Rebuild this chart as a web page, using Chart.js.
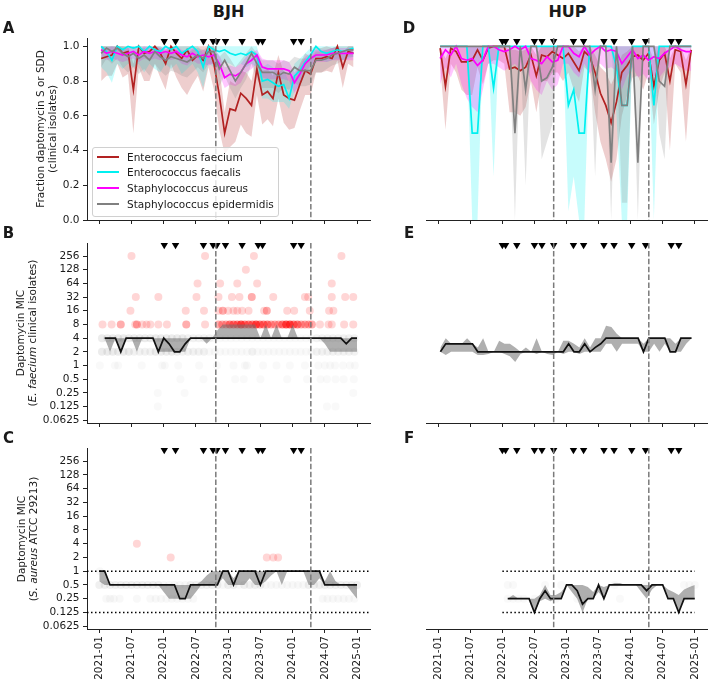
<!DOCTYPE html>
<html><head><meta charset="utf-8">
<script src="https://cdn.jsdelivr.net/npm/chart.js@4.4.1/dist/chart.umd.min.js"></script>
<style>
html,body{margin:0;padding:0;background:#fff;}
body{position:relative;width:712px;height:683px;overflow:hidden;font-family:"DejaVu Sans",sans-serif;color:#1a1a1a;}
.pane{position:absolute;}
.txt{position:absolute;white-space:nowrap;}
.letter{font-weight:bold;font-size:15px;transform:translate(-50%,-50%);}
.site{font-weight:bold;font-size:16px;transform:translate(-50%,-50%);}
.ytitle{font-size:10.5px;line-height:12px;text-align:center;transform:translate(-50%,-50%) rotate(-90deg);}
.legend{position:absolute;left:92px;top:147px;width:187px;height:70px;box-sizing:border-box;border:1px solid #d0d0d0;border-radius:3px;background:rgba(255,255,255,0.8);font-size:10.5px;}
.lrow{position:absolute;left:0;height:14px;width:180px;}
.lline{position:absolute;left:4px;top:6px;width:22px;height:2px;}
.ltext{position:absolute;left:34px;top:0;line-height:14px;white-space:nowrap;}
</style></head><body>
<script>
// ---------------- data ----------------
const xTickMonths = [0,6,12,18,24,30,36,42,48];
const xTickLabels = ['2021-01','2021-07','2022-01','2022-07','2023-01','2023-07','2024-01','2024-07','2025-01'];
const fracTicks = [0,0.2,0.4,0.6,0.8,1.0];
const micTicks = [0.0625,0.125,0.25,0.5,1,2,4,8,16,32,64,128,256];

const speciesNames = ['Enterococcus faecium','Enterococcus faecalis','Staphylococcus aureus','Staphylococcus epidermidis'];

// months since 2021-01 at which samples are plotted
const monthsFrac = Array.from({length:48},(_,i)=>i+0.35);       // panels A, D
const monthsMicBJH = Array.from({length:48},(_,i)=>i+1);        // panel B
const monthsQcBJH = Array.from({length:49},(_,i)=>i);           // panel C
const monthsMicHUP = Array.from({length:48},(_,i)=>i+0.4);      // panel E
const monthsQcHUP = Array.from({length:36},(_,i)=>i+13);        // panel F

const bjhEventMonths = [12.1,14.2,19.4,21.2,21.9,23.5,26.6,29.6,30.4,36.2,37.6];
const hupEventMonths = [12.0,12.6,14.7,18.0,19.4,21.6,25.3,27.2,31.0,32.9,36.2,38.8,43.6,45.0];
const bjhPeriodMonths = [21.7,39.4];
const hupPeriodMonths = [21.6,39.4];
const qcRangeMic = [0.125,1];
const hupQcRangeMonths = [12,48];

// Panel A: BJH fraction susceptible
const bjhFaeciumFrac = [0.93,0.94,0.95,1.0,0.96,0.97,0.75,1.0,0.96,0.97,1.0,0.96,0.90,1.0,0.96,0.93,0.98,0.92,0.95,0.92,1.0,0.90,0.72,0.50,0.64,0.63,0.73,0.70,0.66,0.87,0.72,0.74,0.70,0.85,0.72,0.70,0.69,0.78,0.86,0.84,0.93,0.93,0.94,0.93,1.0,0.88,0.97,0.96];
const bjhFaeciumLo = [0.80,0.83,0.83,0.90,0.82,0.84,0.50,0.88,0.80,0.80,0.90,0.82,0.75,0.90,0.82,0.76,0.72,0.78,0.83,0.74,0.88,0.75,0.52,0.38,0.42,0.45,0.55,0.50,0.48,0.72,0.55,0.58,0.54,0.70,0.56,0.52,0.53,0.63,0.72,0.72,0.85,0.85,0.86,0.85,0.92,0.76,0.90,0.88];
const bjhFaeciumHi = [1,1,1,1,1,1,0.9,1,1,1,1,1,0.98,1,1,1,1,1,1,1,1,1,0.88,0.62,0.8,0.78,0.86,0.85,0.8,0.96,0.86,0.87,0.83,0.95,0.85,0.84,0.82,0.9,0.96,0.94,0.99,0.99,1,0.99,1,0.96,1,1];
const bjhFaecalisFrac = [1.0,0.97,0.92,1.0,0.98,1.0,0.99,1.0,0.97,1.0,0.98,0.97,1.0,0.98,1.0,0.96,0.98,1.0,0.97,0.88,1.0,0.98,0.97,0.98,0.96,0.95,0.96,0.95,0.97,0.95,0.80,0.81,0.79,0.77,0.78,0.70,0.83,0.86,0.91,0.95,1.0,0.97,0.96,0.97,0.98,0.97,0.98,0.99];
const bjhFaecalisLo = [0.88,0.85,0.79,0.9,0.87,0.9,0.88,0.9,0.85,0.9,0.87,0.85,0.9,0.87,0.9,0.84,0.87,0.9,0.85,0.76,0.9,0.88,0.9,0.91,0.9,0.88,0.9,0.88,0.9,0.88,0.70,0.70,0.68,0.68,0.68,0.64,0.74,0.78,0.84,0.88,0.93,0.92,0.91,0.92,0.93,0.92,0.93,0.94];
const bjhFaecalisHi = [1,1,1,1,1,1,1,1,1,1,1,1,1,1,1,1,1,1,1,0.96,1,1,1,1,1,1,1,1,1,1,0.88,0.9,0.88,0.85,0.87,0.79,0.9,0.93,0.96,0.99,1,1,1,1,1,1,1,1];
const bjhAureusFrac = [0.98,0.96,0.97,0.96,0.95,0.96,0.97,0.95,0.97,0.96,0.97,0.96,0.97,0.96,0.97,0.95,0.94,0.96,0.94,0.95,0.94,0.95,0.90,0.82,0.84,0.83,0.85,0.90,0.92,0.95,0.88,0.87,0.87,0.87,0.87,0.86,0.79,0.84,0.90,0.93,0.95,0.95,0.95,0.96,0.96,0.96,0.96,0.96];
const bjhAureusLo = [0.94,0.92,0.93,0.92,0.91,0.92,0.93,0.91,0.93,0.92,0.93,0.92,0.93,0.92,0.93,0.90,0.89,0.92,0.90,0.90,0.89,0.90,0.84,0.76,0.78,0.77,0.79,0.85,0.87,0.90,0.82,0.81,0.81,0.81,0.81,0.80,0.73,0.78,0.85,0.89,0.91,0.91,0.91,0.92,0.92,0.92,0.92,0.92];
const bjhAureusHi = [1.0,0.99,1.0,0.99,0.98,0.99,1.0,0.98,1.0,0.99,1.0,0.99,1.0,0.99,1.0,0.98,0.97,0.99,0.97,0.98,0.97,0.98,0.95,0.88,0.89,0.88,0.90,0.94,0.96,0.98,0.93,0.92,0.92,0.92,0.92,0.91,0.85,0.89,0.94,0.96,0.98,0.98,0.98,0.99,0.99,0.99,0.99,0.99];
const bjhEpidFrac = [0.96,0.99,0.97,0.99,0.96,0.94,0.96,0.93,0.95,0.92,0.97,0.94,0.92,0.94,0.93,0.92,0.91,0.93,0.95,0.93,0.97,0.97,0.87,0.92,0.86,0.80,0.85,0.90,0.96,0.90,0.85,0.85,0.85,0.83,0.85,0.84,0.88,0.86,0.86,0.86,0.92,0.92,0.93,0.95,0.96,0.97,0.98,0.98];
const bjhEpidLo = [0.88,0.93,0.90,0.93,0.88,0.85,0.88,0.84,0.87,0.83,0.90,0.86,0.83,0.86,0.85,0.83,0.82,0.85,0.88,0.85,0.90,0.90,0.77,0.83,0.76,0.70,0.76,0.81,0.90,0.81,0.76,0.76,0.76,0.73,0.76,0.75,0.79,0.77,0.77,0.78,0.85,0.85,0.87,0.89,0.90,0.92,0.94,0.94];
const bjhEpidHi = [1.0,1.0,1.0,1.0,1.0,0.99,1.0,0.98,0.99,0.97,1.0,0.99,0.97,0.99,0.98,0.97,0.96,0.98,0.99,0.98,1.0,1.0,0.94,0.97,0.93,0.88,0.92,0.96,1.0,0.96,0.92,0.92,0.92,0.90,0.92,0.91,0.94,0.93,0.93,0.93,0.97,0.97,0.98,0.99,1.0,1.0,1.0,1.0];

// Panel D: HUP fraction susceptible
const hupFaeciumFrac = [0.99,0.77,0.99,0.97,0.91,0.91,0.92,0.98,0.92,0.99,1,1,1,0.87,0.88,0.86,0.88,0.95,0.83,0.95,0.94,0.97,0.95,0.93,0.96,0.91,0.86,0.97,0.94,0.85,0.73,0.66,0.56,0.68,0.85,0.89,0.94,0.95,0.92,0.96,0.77,0.92,0.96,0.80,0.98,0.97,0.78,0.98];
const hupFaeciumLo = [0.9,0.52,0.9,0.85,0.75,0.72,0.72,0.88,0.78,0.9,0.92,0.92,0.9,0.62,0.62,0.6,0.65,0.8,0.62,0.8,0.8,0.85,0.85,0.8,0.85,0.75,0.68,0.88,0.85,0.62,0.45,0.35,0.22,0.35,0.6,0.72,0.82,0.83,0.75,0.85,0.55,0.75,0.85,0.4,0.9,0.85,0.45,0.88];
const hupFaeciumHi = [1,0.93,1,1,1,1,1,1,1,1,1,1,1,0.98,0.98,0.97,0.98,1,0.95,1,1,1,1,1,1,1,0.97,1,1,0.95,0.88,0.85,0.78,0.85,0.95,0.97,1,1,1,1,0.92,1,1,0.93,1,1,0.92,1];
const hupFaecalisFrac = [1,1,1,1,1,1,0.5,0.5,1,1,0.76,1,1,1,1,1,1,1,1,1,1,1,1,1,0.66,0.75,0.5,0.5,1,1,1,1,1,0.88,0.66,0.66,1,1,1,1,0.66,1,1,1,1,1,1,1];
const hupFaecalisLo = [1,1,1,1,1,1,0,0,1,1,0.25,1,1,1,1,1,1,1,1,1,1,1,1,1,0.05,0.25,0,0,1,1,1,1,1,0.6,0,0,1,1,1,1,0,1,1,1,1,1,1,1];
const hupFaecalisHi = [1,1,1,1,1,1,1,1,1,1,1,1,1,1,1,1,1,1,1,1,1,1,1,1,1,1,1,1,1,1,1,1,1,1,1,1,1,1,1,1,1,1,1,1,1,1,1,1];
const hupAureusFrac = [0.93,0.98,0.95,1.0,0.93,0.92,0.93,0.89,0.92,1.0,1.0,0.98,0.97,0.98,1.0,0.98,1.0,0.93,0.92,0.9,0.94,0.91,0.92,1.0,1.0,0.96,0.94,1.0,0.95,0.98,1.0,0.97,0.98,0.97,0.9,0.94,0.98,0.93,0.95,0.92,0.94,0.93,0.96,0.98,1.0,0.98,0.97,0.97];
const hupAureusLo = [0.78,0.88,0.82,0.9,0.78,0.7,0.65,0.62,0.75,0.9,0.9,0.88,0.86,0.88,0.9,0.86,0.9,0.8,0.75,0.72,0.8,0.75,0.78,0.9,0.9,0.85,0.82,0.9,0.84,0.88,0.9,0.87,0.88,0.86,0.75,0.83,0.88,0.82,0.84,0.8,0.83,0.82,0.86,0.88,0.9,0.88,0.86,0.86];
const hupAureusHi = [1,1,1,1,1,1,1,1,1,1,1,1,1,1,1,1,1,1,1,1,1,1,1,1,1,1,1,1,1,1,1,1,1,1,1,1,1,1,1,1,1,1,1,1,1,1,1,1];
const hupEpidFrac = [1,1,1,1,1,1,1,1,1,1,1,1,1,1,0.5,1,0.75,1,1,0.8,0.82,0.88,1,1,1,1,1,1,1,0.75,1,1,0.33,1,0.66,0.66,1,0.33,1,1,1,0.8,0.77,1,1,1,1,1];
const hupEpidLo = [1,1,1,1,1,1,1,1,1,1,1,1,1,1,0,1,0.2,1,1,0.35,0.45,0.55,1,1,1,1,1,1,1,0.25,1,1,0,1,0.1,0.1,1,0,1,1,1,0.5,0.35,1,1,1,1,1];
const hupEpidHi = [1,1,1,1,1,1,1,1,1,1,1,1,1,1,1,1,1,1,1,1,1,1,1,1,1,1,1,1,1,1,1,1,1,1,1,1,1,1,1,1,1,1,1,1,1,1,1,1];

// Panel B: BJH E. faecium MIC (median, IQR, isolates [month, MIC, count])
const bjhFaeciumMicMedian = [4,4,4,2,4,4,4,4,4,4,2,4,3,2,2,3,4,4,4,4,4,4,4,4,4,4,4,4,4,4,4,4,4,4,4,4,4,4,4,4,4,4,4,4,4,3,4,4];
const bjhFaeciumMicLo = [4,2,4,2,4,4,2,4,4,4,2,2,2,2,2,2,4,4,4,3,4,4,4,4,4,4,4,4,4,4,4,4,4,4,4,4,4,4,4,4,4,3,2,2,2,2,2,2];
const bjhFaeciumMicHi = [4,4,4,4,4,4,4,4,4,4,4,4,4,4,4,4,4,4,4,4,4,6,8,8,8,8,8,8,8,4,8,4,8,4,4,8,4,4,4,4,4,4,4,4,4,4,4,4];
const bjhFaeciumNonSusc = [
 [6.0,256,1],[19.7,256,1],[28.8,256,1],[45.1,256,1],[27.3,128,1],
 [18.3,64,1],[22.5,64,1],[25.7,64,1],[29.4,64,1],[43.3,64,1],
 [6.8,32,1],[11.0,32,1],[18.1,32,1],[22.2,32,1],[24.7,32,1],[26.1,32,1],[28.4,32,2],[32.4,32,1],[38.3,32,1],[38.9,32,1],[43.3,32,1],[45.8,32,1],[47.3,32,1],
 [5.8,16,1],[16.1,16,1],[19.5,16,1],[22.2,16,1],[23.0,16,2],[24.0,16,1],[25.0,16,1],[25.7,16,1],[26.6,16,1],[27.8,16,1],[30.7,16,1],[31.2,16,2],[35.0,16,1],[36.3,16,1],[39.2,16,1],[42.8,16,1],[43.6,16,1],
 [0.6,8,1],[2.3,8,1],[4.0,8,2],[6.7,8,1],[7.0,8,2],[8.0,8,1],[8.8,8,1],[9.5,8,1],[11.0,8,1],[12.6,8,1],[16.2,8,2],[19.7,8,1],
 [22.2,8,2],[22.9,8,2],[23.6,8,2],[24.3,8,3],[25.0,8,3],[25.7,8,3],[26.4,8,4],[27.1,8,3],[27.8,8,3],[28.5,8,3],[29.2,8,4],[29.9,8,3],[30.6,8,3],[31.3,8,3],[32.0,8,2],[32.7,8,2],[33.4,8,2],[34.1,8,3],[34.8,8,4],[35.5,8,4],[36.2,8,3],[36.9,8,3],[37.6,8,2],[38.3,8,2],[39.0,8,2],[39.6,8,2],
 [41.1,8,1],[42.7,8,1],[43.3,8,1],[45.6,8,1],[47.3,8,1]
];
const bjhFaeciumMic4Counts = [3,3,3,3,3,3,3,3,3,3,3,3,3,3,3,3,2,2,2,2,2,1,1,1,1,1,1,1,1,1,1,1,1,1,1,1,1,1,1,1,2,2,2,2,2,2,2,2,2];
const bjhFaeciumMic2Counts = [3,3,3,3,3,3,2,2,2,2,3,3,3,3,3,2,2,2,2,2,1,1,1,1,1,1,1,1,2,1,1,1,1,1,1,1,1,1,1,1,2,2,2,2,2,2,2,2,2];
const bjhFaeciumMic1Months = [0.1,2.9,3.5,7.9,11.7,12.2,14.7,18.6,21.9,25,27.1,27.5,30.5,33,35.5,38.3,40.8,42,43,43.9,45.4,46.7,47.6];
const bjhFaeciumMic05Months = [15.1,19.4,25.3,26.9,30,35,38.7,41.2,42.4,44,45.5,47.4];
const bjhFaeciumMic025Months = [10.9,15.9,47.3];
const bjhFaeciumMic0125Months = [10.9,42.4,44];

// Panel C: BJH S. aureus ATCC 29213 QC MIC
const bjhQcMedian = [1,1,0.5,0.5,0.5,0.5,0.5,0.5,0.5,0.5,0.5,0.5,0.5,0.5,0.5,0.25,0.25,0.5,0.5,0.5,0.5,0.5,0.5,1,1,0.5,1,1,1,1,0.5,1,1,1,1,1,1,1,1,1,1,1,0.5,0.5,0.5,0.5,0.5,0.5,0.5];
const bjhQcLo = [0.6,0.5,0.5,0.5,0.5,0.5,0.5,0.5,0.5,0.5,0.5,0.5,0.35,0.25,0.25,0.25,0.25,0.25,0.35,0.5,0.5,0.5,0.5,0.7,0.5,0.5,0.5,0.5,0.7,0.5,0.5,0.6,0.8,1,0.5,1,1,1,1,0.5,0.5,0.7,0.5,0.5,0.5,0.5,0.5,0.35,0.25];
const bjhQcHi = [1,1,0.5,0.5,0.5,0.5,0.5,0.5,0.5,0.5,0.5,0.5,0.5,0.5,0.5,0.5,0.5,0.5,0.5,0.6,0.8,1,1,1,1,0.7,1,1,1,1,1,1,1,1,1,1,1,1,1,1,1,1,0.6,1,0.6,0.5,0.5,0.5,0.5];
const bjhQcOutOfRange = [[7.0,4,1],[13.3,2,1],[31.2,2,1],[32.4,2,1],[33.3,2,1]];
const bjhQcMic1Months = [0.1];
const bjhQcMic05Counts = [2,2,2,2,2,2,2,2,2,2,2,2,1,1,1,1,1,2,2,2,2,2,2,1,2,2,1,2,2,2,2,1,1,1,1,1,1,1,1,2,2,2,2,2,2,2,2,2,2];
const bjhQcMic025Months = [1.3,2,2.7,3.8,7,9.5,10.5,11.5,12.5,13.5,14.5,15.5,16.5,17.5,41.6,42.5,43.5,44.5,45.5,46.5,47.5];

// Panel E: HUP E. faecium MIC
const hupFaeciumMicMedian = [2,3,3,3,3,3,3,2,2,2,2,2,2,2,2,2,2,2,2,2,2,2,2,2,3,2,2,3,2,2.5,3,4,4,4,4,4,4,4,2,4,4,4,4,2,2,4,4,4];
const hupFaeciumMicLo = [2,1.7,2,2,2,2,2,1.7,1.7,1.8,2,2,1.8,1.6,1.2,1.8,2,2,1.8,2,1.8,1.7,2,1.8,2,2,1.8,2,2,2,2,3,3,2,3,3,3,3,2,2,3,2,3,2,2,2,3,4];
const hupFaeciumMicHi = [2.5,4,3,3,3,4,3,2.5,4,2,2,3.5,3,3,2.5,2,2.5,2,4,2,2,2,2,3.5,3.5,3,2.5,4,2.5,4,4,7.5,7,5,4,4,4,4,3,4,4,4,4,4,3,4,4,4];

// Panel F: HUP S. aureus ATCC 29213 QC MIC
const hupQcMedian = [0.25,0.25,0.25,0.25,0.25,0.125,0.25,0.375,0.25,0.25,0.25,0.5,0.5,0.375,0.19,0.25,0.25,0.5,0.25,0.5,0.5,0.5,0.5,0.5,0.5,0.5,0.375,0.5,0.5,0.5,0.25,0.25,0.125,0.25,0.25,0.25];
const hupQcLo = [0.25,0.25,0.25,0.25,0.25,0.125,0.22,0.25,0.22,0.25,0.25,0.5,0.35,0.25,0.125,0.25,0.25,0.35,0.25,0.5,0.5,0.5,0.5,0.5,0.5,0.35,0.25,0.4,0.5,0.5,0.25,0.25,0.125,0.25,0.25,0.25];
const hupQcHi = [0.25,0.3,0.25,0.25,0.25,0.25,0.3,0.5,0.3,0.3,0.35,0.5,0.5,0.5,0.5,0.45,0.35,0.5,0.45,0.5,0.55,0.55,0.5,0.5,0.5,0.5,0.5,0.5,0.5,0.5,0.4,0.35,0.3,0.4,0.45,0.5];
const hupQcMic05Months = [13,14,20,23,33,39,46,47,48];
const hupQcMic025Months = [13,14,15,16,18,22,26,28,34,44,46];

// ---------------- styles & helpers ----------------
const speciesColors = ['#b22222','#00f0f0','#ff00ff','#808080'];
const speciesBands = ['rgba(178,34,34,0.22)','rgba(0,240,240,0.22)','rgba(255,0,255,0.22)','rgba(128,128,128,0.22)'];
const AXIS = '#222', TXT = '#1a1a1a';
const TICKFONT = {family:'DejaVu Sans', size:10.5};
const X_MIN = -2.29, X_MAX = 50.42;

function pts(xs, ys){ return ys.map((v,i)=>({x:xs[i], y:v})); }
function series(xs, ys, color, width, order){
  return {type:'line', data:pts(xs,ys), borderColor:color, borderWidth:width, pointRadius:0, fill:false, order};
}
function band(xs, lo, hi, color, order){
  return [
    {type:'line', data:pts(xs,lo), borderWidth:0, borderColor:'rgba(0,0,0,0)', pointRadius:0, fill:false, order},
    {type:'line', data:pts(xs,hi), borderWidth:0, borderColor:'rgba(0,0,0,0)', pointRadius:0, fill:'-1', backgroundColor:color, order}
  ];
}
function markers(months, yv){
  return {type:'line', showLine:false, data:months.map(m=>({x:m,y:yv})), pointStyle:'triangle', pointRotation:180,
    pointRadius:4.3, pointBackgroundColor:'#000', pointBorderColor:'#000', pointBorderWidth:0, clip:false, order:0};
}
function dots(list, rgb, alphaPer, order){
  return {type:'line', showLine:false, data:list.map(d=>({x:d[0],y:d[1]})), pointRadius:4, pointBorderWidth:0,
    pointBackgroundColor:list.map(d=>`rgba(${rgb},${Math.min(0.85, alphaPer*d[2])})`), order:order||30};
}
function refPlugin(cfg){
  return {id:'refLines', afterDatasetsDraw(chart){
    const {ctx, chartArea:a, scales:{x,y}} = chart;
    ctx.save();
    (cfg.h||[]).forEach(h=>{
      const py = y.getPixelForValue(h.y);
      const x0 = h.from!=null ? x.getPixelForValue(h.from) : a.left;
      const x1 = h.to!=null ? x.getPixelForValue(h.to) : a.right;
      ctx.setLineDash([1.5,2.5]); ctx.strokeStyle='#000'; ctx.lineWidth=1.5;
      ctx.beginPath(); ctx.moveTo(x0,py); ctx.lineTo(x1,py); ctx.stroke();
    });
    (cfg.v||[]).forEach(m=>{
      const px = x.getPixelForValue(m);
      ctx.setLineDash([5.5,2.4]); ctx.strokeStyle='#7a7a7a'; ctx.lineWidth=1.5;
      ctx.beginPath(); ctx.moveTo(px,a.top); ctx.lineTo(px,a.bottom); ctx.stroke();
    });
    ctx.restore();
  }};
}

const COLS = [{l:0,w:380,al:87,ar:370},{l:380,w:332,al:426,ar:709}];
const ROWS = [{t:26,h:204,at:38,ab:220},{t:231,h:204,at:243,ab:423},{t:436,h:247,at:448,ab:629}];
const FRAC_Y = {type:'linear', min:0, max:1.048, ticks:fracTicks, fmt:v=>v.toFixed(1)};
const MIC_Y = {type:'logarithmic', min:Math.pow(2,-4.2), max:Math.pow(2,8.95), ticks:micTicks, fmt:v=>String(v)};

function makeChart(col, row, yCfg, showY, showXLabels, datasets, ref){
  const div = document.createElement('div'); div.className='pane';
  Object.assign(div.style,{left:col.l+'px', top:row.t+'px', width:col.w+'px', height:row.h+'px'});
  const cv = document.createElement('canvas'); div.appendChild(cv); document.body.appendChild(div);
  const yW = col.al - col.l;
  const yScale = {
    type:yCfg.type, min:yCfg.min, max:yCfg.max, bounds:'data', display:showY,
    afterBuildTicks:s=>{ s.ticks = yCfg.ticks.map(v=>({value:v})); },
    grid:{display:true, drawOnChartArea:false, drawTicks:true, tickLength:4, color:AXIS, lineWidth:1},
    border:{display:true, color:AXIS, width:1},
    ticks:{padding:3.5, color:TXT, font:TICKFONT, autoSkip:false, callback:v=>yCfg.fmt(v)}
  };
  if (showY) yScale.afterFit = s=>{ s.width = yW; };
  return new Chart(cv, {
    type:'line', data:{datasets},
    options:{
      responsive:true, maintainAspectRatio:false, animation:false, events:[],
      layout:{padding:{left: showY?0:yW, right: col.l+col.w-col.ar, top: row.at-row.t, bottom:0}},
      plugins:{legend:{display:false}, tooltip:{enabled:false}},
      scales:{
        x:{type:'linear', min:X_MIN, max:X_MAX, bounds:'data',
          afterBuildTicks:s=>{ s.ticks = xTickMonths.map(v=>({value:v})); },
          afterFit:s=>{ s.height = row.t+row.h-row.ab; },
          grid:{display:true, drawOnChartArea:false, drawTicks:true, tickLength:4, color:AXIS, lineWidth:1},
          border:{display:true, color:AXIS, width:1},
          ticks:{display:showXLabels, autoSkip:false, minRotation:90, maxRotation:90, padding:3, color:TXT, font:TICKFONT,
            callback:v=>xTickLabels[xTickMonths.indexOf(v)]}
        },
        y:yScale
      }
    },
    plugins:[refPlugin(ref||{})]
  });
}

function fracDatasets(sets, events){
  const ds = [];
  sets.forEach((s,i)=>{ ds.push(...band(monthsFrac, s[1], s[2], speciesBands[i], 20-i)); });
  sets.forEach((s,i)=>{ ds.push(series(monthsFrac, s[0], speciesColors[i], 1.7, 10-i)); });
  ds.push(markers(events, 1.03));
  return ds;
}
const MARK_MIC = Math.pow(2,8.8);
const expand = (months, mic, counts) => months.map((m,i)=>[m, mic, counts ? counts[i] : 1]);

// A
makeChart(COLS[0], ROWS[0], FRAC_Y, true, false, fracDatasets([
  [bjhFaeciumFrac,bjhFaeciumLo,bjhFaeciumHi],[bjhFaecalisFrac,bjhFaecalisLo,bjhFaecalisHi],
  [bjhAureusFrac,bjhAureusLo,bjhAureusHi],[bjhEpidFrac,bjhEpidLo,bjhEpidHi]], bjhEventMonths), {v:bjhPeriodMonths});
// D
makeChart(COLS[1], ROWS[0], FRAC_Y, false, false, fracDatasets([
  [hupFaeciumFrac,hupFaeciumLo,hupFaeciumHi],[hupFaecalisFrac,hupFaecalisLo,hupFaecalisHi],
  [hupAureusFrac,hupAureusLo,hupAureusHi],[hupEpidFrac,hupEpidLo,hupEpidHi]], hupEventMonths), {v:hupPeriodMonths});

// B
const monthCenters = Array.from({length:49},(_,i)=>i+0.5);
const bjhGrayIsolates = [].concat(
  expand(monthCenters, 4, bjhFaeciumMic4Counts), expand(monthCenters, 2, bjhFaeciumMic2Counts),
  expand(bjhFaeciumMic1Months, 1), expand(bjhFaeciumMic05Months, 0.5),
  expand(bjhFaeciumMic025Months, 0.25), expand(bjhFaeciumMic0125Months, 0.125)).filter(d=>d[0]<48.2);
makeChart(COLS[0], ROWS[1], MIC_Y, true, false, [
  dots(bjhGrayIsolates, '128,128,128', 0.05, 31),
  dots(bjhFaeciumNonSusc, '255,0,0', 0.16, 30),
  ...band(monthsMicBJH, bjhFaeciumMicLo, bjhFaeciumMicHi, 'rgba(110,110,110,0.55)', 20),
  series(monthsMicBJH, bjhFaeciumMicMedian, '#111', 1.7, 10),
  markers(bjhEventMonths, MARK_MIC)
], {v:bjhPeriodMonths});

// E
makeChart(COLS[1], ROWS[1], MIC_Y, false, false, [
  ...band(monthsMicHUP, hupFaeciumMicLo, hupFaeciumMicHi, 'rgba(110,110,110,0.55)', 20),
  series(monthsMicHUP, hupFaeciumMicMedian, '#111', 1.7, 10),
  markers(hupEventMonths, MARK_MIC)
], {v:hupPeriodMonths});

// C
const bjhQcGray = [].concat(expand(bjhQcMic1Months, 1), expand(monthsQcBJH, 0.5, bjhQcMic05Counts), expand(bjhQcMic025Months, 0.25));
makeChart(COLS[0], ROWS[2], MIC_Y, true, true, [
  dots(bjhQcGray, '128,128,128', 0.06, 31),
  dots(bjhQcOutOfRange, '255,0,0', 0.16, 30),
  ...band(monthsQcBJH, bjhQcLo, bjhQcHi, 'rgba(110,110,110,0.55)', 20),
  series(monthsQcBJH, bjhQcMedian, '#111', 1.7, 10),
  markers(bjhEventMonths, MARK_MIC)
], {v:bjhPeriodMonths, h:[{y:qcRangeMic[1]},{y:qcRangeMic[0]}]});

// F
const hupQcGray = [].concat(expand(hupQcMic05Months, 0.5), expand(hupQcMic025Months, 0.25));
makeChart(COLS[1], ROWS[2], MIC_Y, false, true, [
  dots(hupQcGray, '128,128,128', 0.05, 31),
  ...band(monthsQcHUP, hupQcLo, hupQcHi, 'rgba(110,110,110,0.55)', 20),
  series(monthsQcHUP, hupQcMedian, '#111', 1.7, 10),
  markers(hupEventMonths, MARK_MIC)
], {v:hupPeriodMonths, h:[{y:qcRangeMic[1],from:hupQcRangeMonths[0],to:hupQcRangeMonths[1]},{y:qcRangeMic[0],from:hupQcRangeMonths[0],to:hupQcRangeMonths[1]}]});

// ---------------- text overlays ----------------
function addText(cls, html, x, y){
  const d = document.createElement('div'); d.className = 'txt '+cls; d.innerHTML = html;
  d.style.left = x+'px'; d.style.top = y+'px'; document.body.appendChild(d);
}
addText('site','BJH',228.5,10.5);
addText('site','HUP',567.5,10.5);
[['A',8.5,27.5],['B',8.5,232.5],['C',8.5,437.5],['D',409,27.5],['E',409,232.5],['F',409,437.5]]
  .forEach(([t,x,y])=>addText('letter',t,x,y));
addText('ytitle','Fraction daptomycin S or SDD<br>(clinical isolates)',45.5,129);
addText('ytitle','Daptomycin MIC<br>(<i>E. faecium</i> clinical isolates)',26,333);
addText('ytitle','Daptomycin MIC<br>(<i>S. aureus</i> ATCC 29213)',26.5,538.5);

const lg = document.createElement('div'); lg.className='legend'; document.body.appendChild(lg);
speciesNames.forEach((n,i)=>{
  const r = document.createElement('div'); r.className='lrow'; r.style.top = (1.5+i*15.8)+'px';
  r.innerHTML = `<div class="lline" style="background:${speciesColors[i]}"></div><div class="ltext">${n}</div>`;
  lg.appendChild(r);
});
</script>
</body></html>
